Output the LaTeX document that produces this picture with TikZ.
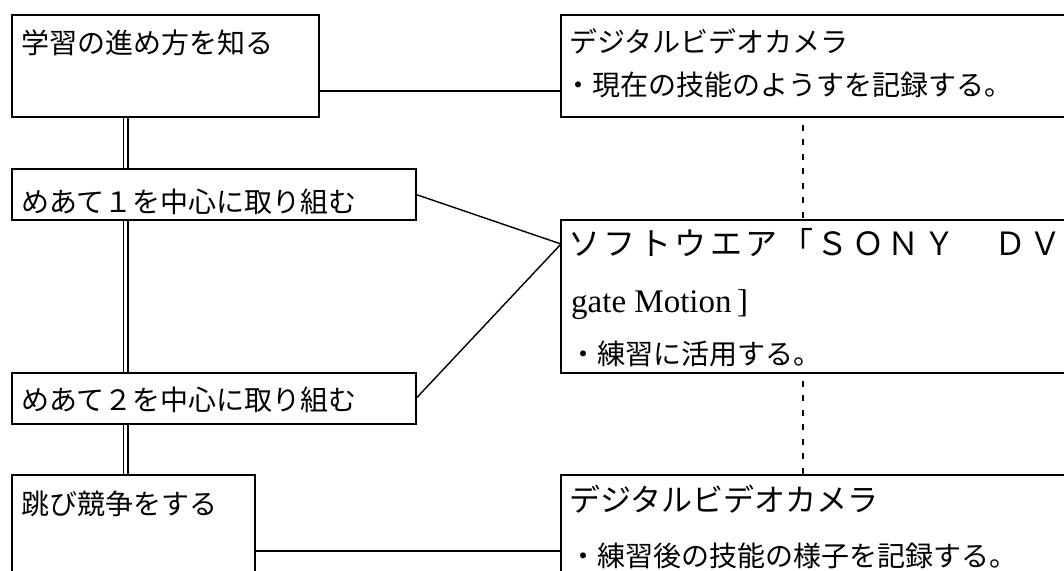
\documentclass[tikz,border=0pt]{standalone}
\usepackage{fontspec}
\setmainfont{Liberation Serif}
\newfontfamily\jp{Noto Sans CJK JP}
\newfontfamily\jpwide[LetterSpace=11]{Noto Sans CJK JP}
\usetikzlibrary{backgrounds}
\begin{document}
\begin{tikzpicture}[x=1pt,y=-1pt,
  box/.style={draw, line width=1.8pt, fill=white, rectangle, inner sep=0pt, outer sep=0pt},
  conn/.style={line width=1.8pt},
  diag/.style={line width=1.4pt},
  dbl/.style={double distance=3.2pt, line width=1.4pt},
  dashln/.style={line width=1.8pt, dash pattern=on 6pt off 8.5pt, dash phase=7pt},
  txt/.style={anchor=base west, inner sep=0pt, font=\jp\fontsize{28pt}{30pt}\selectfont},
  bigtxt/.style={anchor=base west, inner sep=0pt, font=\jp\fontsize{31pt}{33pt}\selectfont},
  widetxt/.style={anchor=base west, inner sep=0pt, font=\jpwide\fontsize{32pt}{34pt}\selectfont},
  serif/.style={anchor=base west, inner sep=0pt, font=\rmfamily\fontsize{33pt}{35pt}\selectfont}]
\useasboundingbox (0,0) rectangle (1064,570);
\clip (0,0) rectangle (1064,570);
% boxes
\node[box, minimum width=307pt, minimum height=102pt] (b1) at (165.5,66) {};
\node[box, minimum width=404pt, minimum height=51pt] (b2) at (214,194.5) {};
\node[box, minimum width=404pt, minimum height=51pt] (b3) at (214,398.5) {};
\node[box, minimum width=243pt, minimum height=125pt] (b4) at (133.5,537.5) {};
\node[box, minimum width=519pt, minimum height=102pt] (cam1) at (820.5,66) {};
\node[box, minimum width=519pt, minimum height=153pt] (soft) at (820.5,296.5) {};
\node[box, minimum width=519pt, minimum height=125pt] (cam2) at (820.5,537.5) {};
% texts
\node[txt] (t1) at (21,53) {学習の進め方を知る};
\node[txt] (t2) at (21,212) {めあて１を中心に取り組む};
\node[txt] (t3) at (21,410) {めあて２を中心に取り組む};
\node[txt] (t4) at (21,514) {跳び競争をする};
\node[txt] (c1a) at (569,52) {デジタルビデオカメラ};
\node[txt] (c1b) at (564,95) {・現在の技能のようすを記録する。};
\node[widetxt] (s1) at (568,255) {ソフトウエア「ＳＯＮＹ　ＤＶ};
\node[serif] (s2) at (571,312) {gate Motion\,]};
\node[txt] (s3) at (569,364) {・練習に活用する。};
\node[bigtxt] (d1) at (569,511) {デジタルビデオカメラ};
\node[txt] (d2) at (569,566) {・練習後の技能の様子を記録する。};
% helper coordinates
\coordinate (vx) at (125.5,0);
\coordinate (dx) at (803,0);
\coordinate (h1) at (0,91);
\coordinate (h2) at (0,551);
\coordinate (jn) at (0,244);
\begin{pgfonlayer}{background}
\draw[dbl] (b1.south -| vx) -- (b2.north -| vx);
\draw[dbl] (b2.south -| vx) -- (b3.north -| vx);
\draw[dbl] (b3.south -| vx) -- (b4.north -| vx);
\draw[conn] (b1.east |- h1) -- (cam1.west |- h1);
\draw[conn] (b4.east |- h2) -- (cam2.west |- h2);
\draw[diag] (b2.east) -- (soft.west |- jn);
\draw[diag] (b3.east) -- (soft.west |- jn);
\draw[dashln] (cam1.south -| dx) -- (soft.north -| dx);
\draw[dashln] (soft.south -| dx) -- (cam2.north -| dx);
\end{pgfonlayer}
\end{tikzpicture}
\end{document}
